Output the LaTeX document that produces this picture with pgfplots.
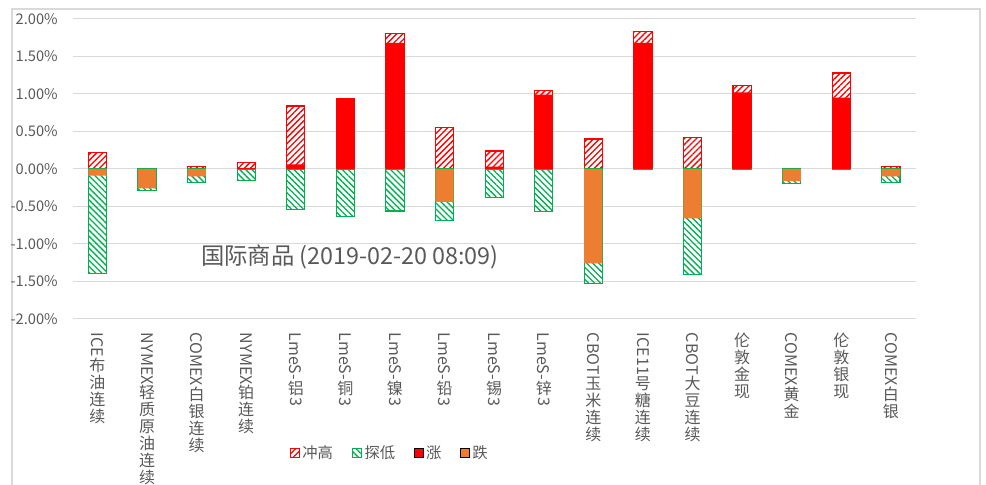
\documentclass[border=0pt]{standalone}
\usepackage{fontspec}
\setmainfont{Noto Sans CJK SC}
\usepackage{graphicx}
\usepackage{pgfplots}
\pgfplotsset{compat=1.18}
\usepackage{pgfplotstable}
\usetikzlibrary{patterns.meta}
\definecolor{txt}{HTML}{595959}
\definecolor{gridc}{HTML}{D9D9D9}
\definecolor{myred}{HTML}{FF0000}
\definecolor{myorange}{HTML}{ED7D31}
\definecolor{mygreen}{HTML}{00B050}
\newcommand{\R}[1]{\raisebox{\dimexpr\depth-2pt\relax}{\rotatebox{-90}{#1}}}

% x  high  low  up(close>0)  down(close<0)
\pgfplotstableread{
x  high  low    up    down
0  0.22  -1.39  nan   -0.09
1  nan   -0.29  nan   -0.26
2  0.03  -0.18  nan   -0.10
3  0.09  -0.15  0.01  nan
4  0.84  -0.54  0.06  nan
5  0.94  -0.63  0.93  nan
6  1.81  -0.56  1.68  nan
7  0.55  -0.69  nan   -0.44
8  0.24  -0.38  0.03  nan
9  1.05  -0.57  0.99  nan
10 0.40  -1.53  nan   -1.26
11 1.83  -0.01  1.68  nan
12 0.42  -1.41  nan   -0.66
13 1.11  -0.01  1.02  nan
14 nan   -0.19  nan   -0.16
15 1.28  -0.01  0.95  nan
16 0.03  -0.18  nan   -0.10
}\data

\begin{document}
\begin{tikzpicture}
\useasboundingbox (-54.5pt,-124.5pt) rectangle (685pt,239.25pt);
\draw[gridc, line width=1.1pt] (-45.5pt,-140pt) -- (-45.5pt,232.5pt) -- (680.5pt,232.5pt) -- (680.5pt,-140pt);
\begin{axis}[
  at={(0,0)}, anchor=south west,
  scale only axis, width=632.25pt, height=225pt,
  xmin=-0.5, xmax=16.5, ymin=-2, ymax=2,
  enlargelimits=false,
  ybar, bar width=13.7pt,
  ytick={-2,-1.5,-1,-0.5,0,0.5,1,1.5,2},
  ymajorgrids, grid style={gridc, line width=0.75pt},
  axis line style={draw=none}, tick style={draw=none},
  /pgf/number format/assume math mode=true,
  yticklabel={\pgfmathprintnumber[fixed,fixed zerofill,precision=2]{\tick}\%},
  yticklabel style={font=\fontsize{11}{13}\selectfont, text=txt, inner sep=0pt, xshift=-11pt},
  xtick={0,...,16},
  xticklabels={
    {\R{ICE}\\布\\油\\连\\续},
    {\R{NYMEX}\\轻\\质\\原\\油\\连\\续},
    {\R{COMEX}\\白\\银\\连\\续},
    {\R{NYMEX}\\铂\\连\\续},
    {\R{LmeS-}\\铝\\[-6pt]\R{3}},
    {\R{LmeS-}\\铜\\[-6pt]\R{3}},
    {\R{LmeS-}\\镍\\[-6pt]\R{3}},
    {\R{LmeS-}\\铅\\[-6pt]\R{3}},
    {\R{LmeS-}\\锡\\[-6pt]\R{3}},
    {\R{LmeS-}\\锌\\[-6pt]\R{3}},
    {\R{CBOT}\\玉\\米\\连\\续},
    {\R{ICE11}\\号\\糖\\连\\续},
    {\R{CBOT}\\大\\豆\\连\\续},
    {伦\\敦\\金\\现},
    {\R{COMEX}\\黄\\金},
    {伦\\敦\\银\\现},
    {\R{COMEX}\\白\\银}},
  xticklabel style={align=center, anchor=north, font=\fontsize{12}{12.75}\selectfont, text=txt, inner sep=0pt, yshift=-6pt},
  legend columns=4,
  legend style={at={(0.3764,-0.4467)}, anchor=center, draw=none, fill=none,
    font=\fontsize{11.5}{13}\selectfont, text=txt,
    /tikz/every even column/.append style={column sep=12pt}},
  legend image code/.code={\draw[#1] (0pt,-3.4pt) rectangle (6.8pt,3.4pt);},
]
\addplot[bar shift=0pt, draw=myred, line width=0.8pt,
  pattern={Lines[angle=45,distance=3.2pt,line width=1pt]}, pattern color=myred]
  table[x=x,y=high]{\data};
\addlegendentry{冲高}
\addplot[bar shift=0pt, draw=mygreen, line width=0.8pt,
  pattern={Lines[angle=-45,distance=3.2pt,line width=1pt]}, pattern color=mygreen]
  table[x=x,y=low]{\data};
\addlegendentry{探低}
\addplot[bar shift=0pt, draw=none, fill=myred]
  table[x=x,y=up]{\data};
\addlegendentry{涨}
\addplot[bar shift=0pt, draw=none, fill=myorange]
  table[x=x,y=down]{\data};
\addlegendentry{跌}
\node[text=txt, font=\fontsize{17.5}{20}\selectfont] at (axis cs:5.09,-1.17) {国际商品 (2019-02-20 08:09)};
\end{axis}
\end{tikzpicture}
\end{document}
